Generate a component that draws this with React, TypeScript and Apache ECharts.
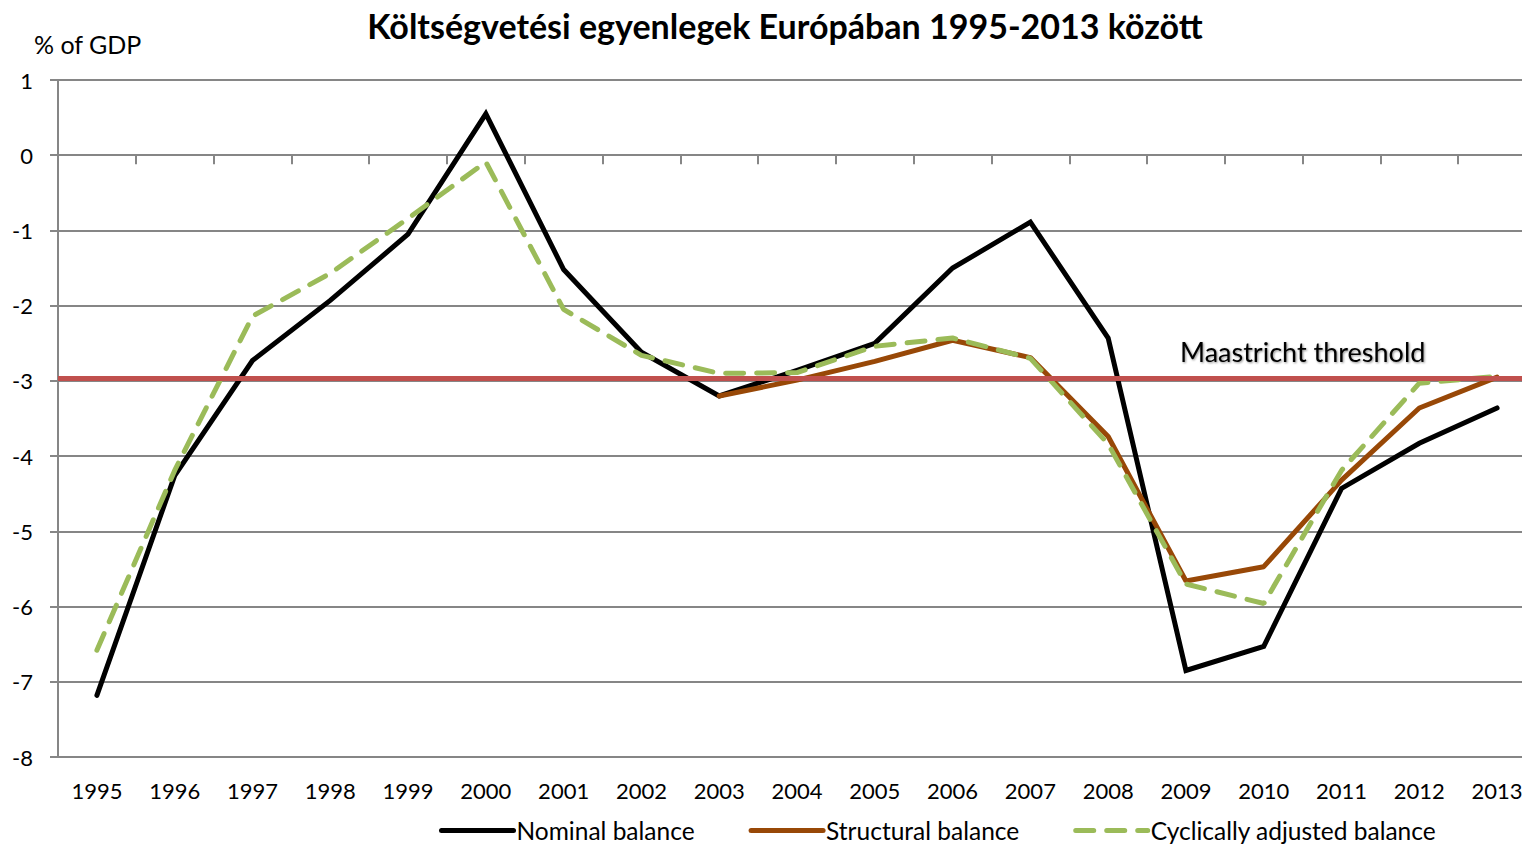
import React, { useEffect, useRef } from "react";
import * as echarts from "echarts";

const years = ["1995","1996","1997","1998","1999","2000","2001","2002","2003","2004","2005","2006","2007","2008","2009","2010","2011","2012","2013"];
const nominal = [-7.18,-4.26,-2.73,-1.93,-1.05,0.55,-1.52,-2.62,-3.2,-2.86,-2.5,-1.5,-0.89,-2.43,-6.85,-6.53,-4.43,-3.83,-3.36];
const structural = [null,null,null,null,null,null,null,null,-3.2,-2.99,-2.74,-2.46,-2.69,-3.74,-5.66,-5.47,-4.32,-3.36,-2.95];
const cyclical = [-6.58,-4.19,-2.14,-1.57,-0.84,-0.09,-2.05,-2.66,-2.9,-2.89,-2.54,-2.43,-2.7,-3.84,-5.7,-5.96,-4.19,-3.03,-2.94];
const threshold = -2.97;
const seriesNames = ["Nominal balance", "Structural balance", "Cyclically adjusted balance"];

const FONT = "Lato, 'Liberation Sans', sans-serif";

export default function App() {
  const ref = useRef<HTMLDivElement>(null);
  useEffect(() => {
    if (!ref.current) return;
    const chart = echarts.init(ref.current, null, { renderer: "svg" });
    const grid = "#868686";
    chart.setOption({
      animation: false,
      backgroundColor: "#ffffff",
      textStyle: { fontFamily: FONT },
      title: {
        text: "Költségvetési egyenlegek Európában 1995-2013 között",
        left: 780,
        textAlign: "center",
        top: 3,
        textStyle: { fontFamily: FONT, fontSize: 34, fontWeight: "bold", color: "#000" },
      },
      grid: { left: 58, right: 0, top: 80, bottom: 88, containLabel: false },
      legend: {
        bottom: -3,
        left: 434,
        itemWidth: 72,
        itemHeight: 14,
        itemGap: 54,
        itemStyle: { opacity: 0 },
        lineStyle: { width: 5 },
        textStyle: { fontFamily: FONT, fontSize: 24.5, color: "#000", padding: [0, 0, 0, -2] },
        data: seriesNames,
      },
      xAxis: [
        {
          type: "category",
          data: years,
          position: "bottom",
          boundaryGap: true,
          axisLine: { show: false },
          axisTick: { show: false },
          axisLabel: { fontFamily: FONT, fontSize: 22, color: "#000", margin: 22 },
          splitLine: { show: false },
        },
        {
          type: "category",
          data: years,
          position: "bottom",
          boundaryGap: true,
          axisLine: { show: true, onZero: true, onZeroAxisIndex: 0, lineStyle: { color: grid, width: 2 } },
          axisTick: { show: true, length: 9, inside: false, lineStyle: { color: grid, width: 2 } },
          axisLabel: { show: false },
          splitLine: { show: false },
        },
      ],
      yAxis: {
        type: "value",
        min: -8,
        max: 1,
        interval: 1,
        name: "% of GDP",
        nameLocation: "end",
        nameGap: 24,
        nameTextStyle: { fontFamily: FONT, fontSize: 25, color: "#000", align: "left", padding: [0, 0, 0, -24] },
        axisLine: { show: true, lineStyle: { color: grid, width: 2 } },
        axisTick: { show: true, length: 8, lineStyle: { color: grid, width: 2 } },
        axisLabel: { fontFamily: FONT, fontSize: 22, color: "#000", margin: 25 },
        splitLine: { show: true, lineStyle: { color: grid, width: 2 } },
      },
      graphic: [
        {
          type: "text",
          left: 1180,
          top: 338,
          style: {
            text: "Maastricht threshold",
            fontFamily: FONT,
            fontSize: 27,
            fill: "#000",
            textShadowColor: "rgba(0,0,0,0.45)",
            textShadowBlur: 2,
            textShadowOffsetX: 1,
            textShadowOffsetY: 1,
          },
          z: 100,
        },
      ],
      series: [
        {
          name: seriesNames[0],
          type: "line",
          xAxisIndex: 0,
          data: nominal,
          symbol: "none",
          lineStyle: { color: "#000000", width: 5, cap: "round", join: "miter" },
          itemStyle: { color: "#000000" },
          z: 3,
        },
        {
          name: seriesNames[1],
          type: "line",
          xAxisIndex: 0,
          data: structural,
          symbol: "none",
          lineStyle: { color: "#984807", width: 5, cap: "round" },
          itemStyle: { color: "#984807" },
          z: 4,
          markLine: {
            silent: true,
            symbol: "none",
            label: { show: false },
            lineStyle: { color: "#C0504D", width: 5, type: "solid" },
            data: [{ yAxis: threshold }],
            z: 5,
          },
        },
        {
          name: seriesNames[2],
          type: "line",
          xAxisIndex: 0,
          data: cyclical,
          symbol: "none",
          lineStyle: { color: "#9BBB59", width: 5, type: [18, 13], cap: "round" },
          itemStyle: { color: "#9BBB59" },
          z: 4,
        },
      ],
    });
    return () => chart.dispose();
  }, []);
  return (
    <div style={{ position: "fixed", left: 0, top: 0, width: 1522, height: 845, overflow: "hidden", background: "#fff" }}>
      <div ref={ref} style={{ position: "absolute", left: 0, top: 0, width: 1536, height: 845 }} />
    </div>
  );
}
